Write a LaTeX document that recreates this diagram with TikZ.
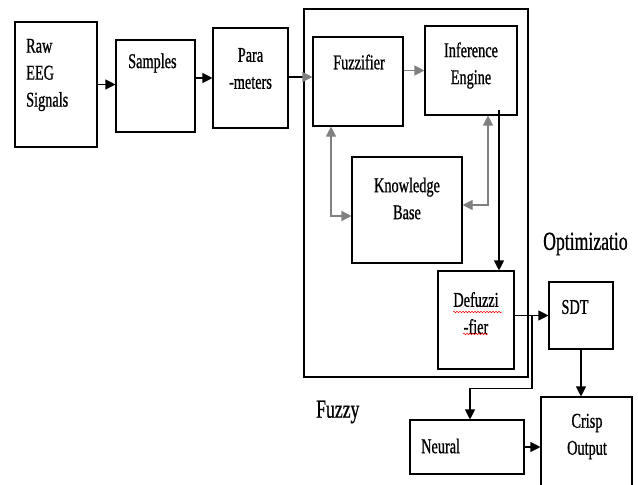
\documentclass[tikz,border=0pt]{standalone}
\usepackage{fontspec}
\setmainfont{Liberation Serif}[FakeStretch=0.68,FakeBold=0.8]
\usetikzlibrary{arrows.meta,positioning,decorations.pathmorphing}
\tikzset{
  blk/.style  ={draw,line width=1.1pt,inner sep=0pt},
  txt/.style  ={font=\fontsize{21}{27}\selectfont,inner sep=0pt,align=center},
  lbl/.style  ={font=\fontsize{26}{30}\selectfont,inner sep=0pt},
  ar/.style   ={line width=1.1pt,-{Triangle[length=10pt,width=10pt]}},
  gar/.style  ={line width=1.1pt,draw=gray,-{Triangle[length=10pt,width=10pt]}},
  gbar/.style ={line width=1.1pt,draw=gray,
                {Triangle[length=10pt,width=10pt]}-{Triangle[length=10pt,width=10pt]}},
  squig/.style={red,line width=0.5pt,decorate,
                decoration={snake,amplitude=0.8pt,segment length=3pt}},
}

\begin{document}
\begin{tikzpicture}[x=1pt,y=-1pt]
\path[use as bounding box] (0,0) rectangle (638,485);
\clip (0,0) rectangle (638,485);
% blocks
\node[blk,minimum width=82pt,minimum height=125pt] (raw) at (56,84.5) {};
\node[blk,minimum width=79pt,minimum height=92pt] (samp) at (155.5,86) {};
\node[blk,minimum width=75pt,minimum height=100pt] (para) at (250.5,78) {};
\node[blk,minimum width=224pt,minimum height=368pt] (fz) at (416,193) {};
\node[blk,minimum width=90pt,minimum height=89pt] (fuzz) at (358,81.5) {};
\node[blk,minimum width=92pt,minimum height=89pt] (inf) at (471,70.5) {};
\node[blk,minimum width=110pt,minimum height=106pt] (kb) at (407,210) {};
\node[blk,minimum width=76pt,minimum height=98pt] (defz) at (476,320) {};
\node[blk,minimum width=64pt,minimum height=67pt] (sdt) at (581,315.5) {};
\node[blk,minimum width=114pt,minimum height=54pt] (neur) at (467,447) {};
\node[blk,minimum width=91pt,minimum height=103pt] (crisp) at (586.5,448.5) {};
% texts
\node[txt,align=left,anchor=west] (rawt) at (26,75) {Raw\\EEG\\Signals};
\node[txt,anchor=west] (sampt) at (128,63) {Samples};
\node[txt] (parat) at (250.5,68.5) {Para\\-meters};
\node[txt] (fuzzt) at (359,62) {Fuzzifier};
\node[txt] (inft) at (471,65.5) {Inference\\Engine};
\node[txt] (kbt) at (407,198.5) {Knowledge\\Base};
\node[txt] (defzt) at (476,313) {Defuzzi\\-fier};
\node[txt] (sdtt) at (575,307) {SDT};
\node[txt,anchor=west] (neurt) at (421,446) {Neural};
\node[txt] (crispt) at (587,436.5) {Crisp\\Output};
\node[lbl,anchor=west] (fzl) at (316,412) {Fuzzy};
\node[lbl,anchor=west] (optl) at (543,244) {Optimizatio};
% spelling marks
\draw[squig] (453,312) -- (502,312);
\draw[squig] (463,334) -- (488,334);
% connectors
\draw[ar] (raw.east) -- (raw.east -| samp.west);
\draw[ar] (samp.east |- para.west) -- (para.west);
\draw[line width=1.1pt,-{Triangle[length=10pt,width=10pt,color=gray]}]
  (para.east |- 0,77) -- (fuzz.west |- 0,77);
\draw[gar] (fuzz.east |- inf.west) -- (inf.west);
\draw[gbar] ([xshift=-27pt]fuzz.south) |- ([yshift=-6pt]kb.west);
\draw[gbar] ([yshift=5pt]kb.east) -| ([xshift=17pt]inf.south);
\coordinate (ie) at ([xshift=28pt,yshift=6pt]inf.south);
\draw[ar] (ie) -- (ie |- defz.north);
\draw[ar] (defz.east |- sdt.west) -- (sdt.west);
\coordinate (br) at (532,315.5);
\draw[ar] (br) -- ++(0,73) -| ([xshift=3pt]neur.north);
\draw[ar] (sdt.south) -- (sdt.south |- crisp.north);
\draw[ar] (neur.east) -- (neur.east -| crisp.west);
\end{tikzpicture}
\end{document}
